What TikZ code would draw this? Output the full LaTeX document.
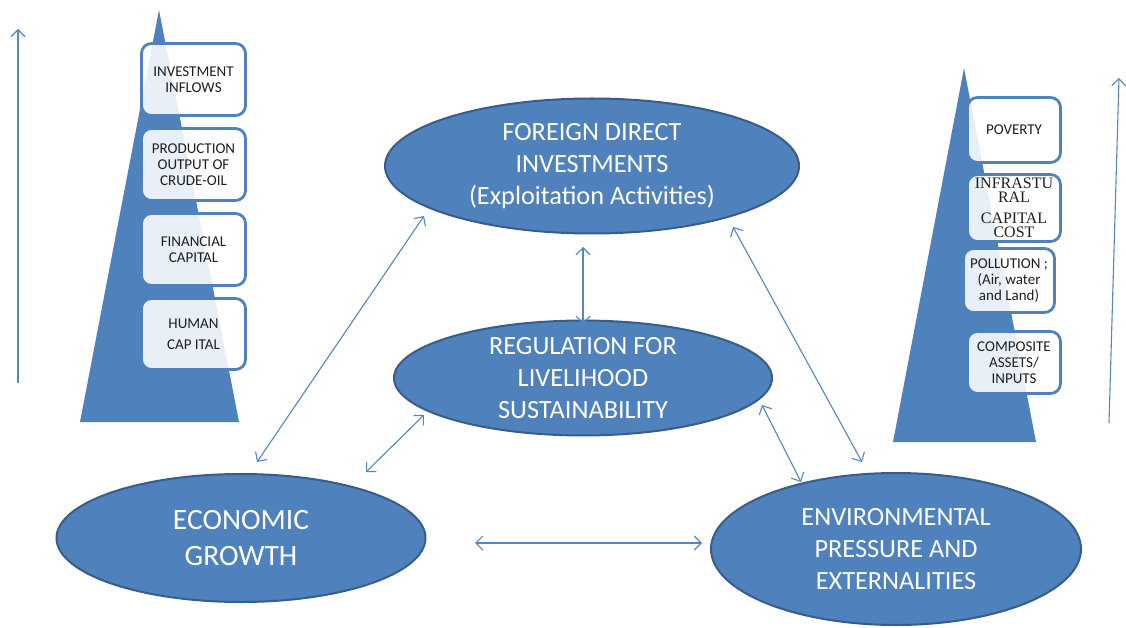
\documentclass[tikz,border=0pt]{standalone}
\usepackage{fontspec}
\setmainfont{Carlito}
\newfontfamily\serifbox{Liberation Serif}
\usetikzlibrary{shapes.geometric,arrows.meta,calc}
\definecolor{blu}{HTML}{4F81BD}
\definecolor{dblu}{HTML}{385D8A}
\definecolor{arrc}{HTML}{5585C2}
\definecolor{txt}{HTML}{1F1F1F}
\begin{document}
\begin{tikzpicture}[x=1pt,y=-1pt,
  oval/.style={ellipse, fill=blu, draw=dblu, line width=2pt, text=white, align=center, inner sep=0pt, font=\fontsize{26.3}{32}\selectfont},
  sidebox/.style={rounded corners=10pt, draw=blu, line width=2.8pt, fill=white, fill opacity=0.88, text opacity=1, text=txt, align=center, inner sep=0pt, font=\fontsize{15}{16}\selectfont},
  tip/.tip={Straight Barb[length=7pt,width=14pt,line width=1.1pt]},
  biarrow/.style={draw=arrc, line width=1.1pt, {tip}-{tip}},
  uparrow/.style={draw=arrc, line width=1.1pt, -{tip}}]
\useasboundingbox (0,0) rectangle (1126,628);

% pyramids
\fill[blu] (159,10) -- (80,422) -- (239,422) -- cycle;
\fill[blu] (964,68) -- (893,442) -- (1036,442) -- cycle;

% side arrows
\coordinate (la1) at (18,383);
\coordinate (la2) at (18,29);
\coordinate (ra1) at (1109,423);
\coordinate (ra2) at (1119,78);
\draw[uparrow] (la1) -- (la2);
\draw[uparrow] (ra1) -- (ra2);

% left boxes
\node[sidebox, minimum width=104, minimum height=72] (l1) at (193.5,79.5) {INVESTMENT\\INFLOWS};
\node[sidebox, minimum width=104, minimum height=72] (l2) at (193.5,164.5) {PRODUCTION\\OUTPUT OF\\CRUDE-OIL};
\node[sidebox, minimum width=104, minimum height=72] (l3) at (193.5,249.5) {FINANCIAL\\CAPITAL};
\node[sidebox, minimum width=104, minimum height=71] (l4) at (193.5,334) {HUMAN\\[5pt]CAP ITAL};

% right boxes
\node[sidebox, minimum width=93, minimum height=65] (r1) at (1014,130) {POVERTY};
\node[sidebox, minimum width=93, minimum height=67, font=\serifbox\fontsize{16}{14}\selectfont] (r2) at (1014,208) {INFRASTU\\RAL\\[7pt]CAPITAL\\COST};
\node[sidebox, minimum width=91, minimum height=64] (r3) at (1009,280.5) {POLLUTION ;\\(Air, water\\and Land)};
\node[sidebox, minimum width=93, minimum height=62] (r4) at (1014,362.5) {COMPOSITE\\ASSETS/\\INPUTS};

% ellipses
\node[oval, minimum width=414, minimum height=135] (fdi) at (592,166) {FOREIGN DIRECT\\INVESTMENTS\\(Exploitation Activities)};
\node[oval, minimum width=378, minimum height=106] (reg) at (583,378) {REGULATION FOR\\LIVELIHOOD\\SUSTAINABILITY};
\node[oval, minimum width=369, minimum height=128, font=\fontsize{29.5}{36}\selectfont] (eg) at (241,538) {ECONOMIC\\GROWTH};
\node[oval, minimum width=370, minimum height=152] (env) at (896,549) {ENVIRONMENTAL\\PRESSURE AND\\EXTERNALITIES};

% connectors
\draw[biarrow] ($(eg)+(16,-76)$) -- ($(fdi)+(-168,50)$);
\draw[biarrow] ($(fdi)+(-9,81)$) -- ($(reg)+(0,-54)$);
\draw[biarrow] ($(eg)+(125,-66)$) -- ($(reg)+(-159,37)$);
\draw[biarrow] ($(env)+(-34,-87)$) -- ($(fdi)+(141,61)$);
\draw[biarrow] ($(env)+(-95,-67)$) -- ($(reg)+(179,27)$);
\draw[biarrow] ($(eg)+(234,5)$) -- ($(env)+(-194,-6)$);
\end{tikzpicture}
\end{document}
